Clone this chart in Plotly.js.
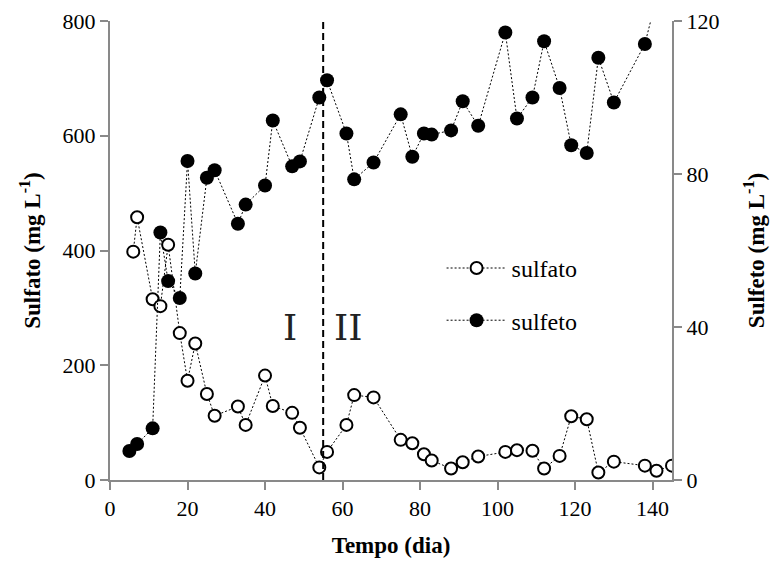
<!DOCTYPE html>
<html>
<head>
<meta charset="utf-8">
<script src="https://cdn.plot.ly/plotly-3.0.1.min.js"></script>
<style>html,body{margin:0;padding:0;background:#fff;}#chart{width:776px;height:565px;}</style>
</head>
<body>
<div id="chart"></div>
<script>
// Data
const sulfatoDias = [6, 7, 11, 13, 15, 18, 20, 22, 25, 27, 33, 35, 40, 42, 47, 49, 54, 56, 61, 63, 68, 75, 78, 81, 83, 88, 91, 95, 102, 105, 109, 112, 116, 119, 123, 126, 130, 138, 141, 145];
const sulfatoValores = [398, 458, 315, 303, 410, 256, 173, 238, 150, 112, 128, 96, 182, 129, 117, 91, 22, 49, 96, 148, 144, 70, 64, 45, 34, 20, 31, 41, 49, 52, 51, 20, 42, 111, 106, 13, 32, 25, 16, 25];
const sulfetoDias = [5, 7, 11, 13, 15, 18, 20, 22, 25, 27, 33, 35, 40, 42, 47, 49, 54, 56, 61, 63, 68, 75, 78, 81, 83, 88, 91, 95, 102, 105, 109, 112, 116, 119, 123, 126, 130, 138, 141];
const sulfetoValores = [7.6, 9.4, 13.5, 64.7, 52, 47.6, 83.4, 54, 79, 81, 67, 72, 77, 94, 82, 83.3, 100, 104.5, 90.6, 78.6, 83, 95.6, 84.5, 90.6, 90.3, 91.4, 99, 92.6, 117, 94.5, 100, 114.7, 102.5, 87.5, 85.5, 110.4, 98.7, 114, 126];
const dataMudanca = 55;
const fases = ["I", "II"];
const fasesX = [46.4, 61.4];
const fasesY = [265, 265];
const xTicks = [0, 20, 40, 60, 80, 100, 120, 140];
const y1Ticks = [0, 200, 400, 600, 800];
const y2Ticks = [0, 40, 80, 120];

const FONT = "Liberation Serif";
const AXIS = "#898989";

const traces = [
  {
    x: sulfatoDias, y: sulfatoValores, name: "sulfato", type: "scatter", mode: "lines+markers",
    legendgroup: "a",
    line: {color: "#000", width: 1, dash: "2px,2px"},
    marker: {symbol: "circle", size: 12, color: "#fff", line: {color: "#000", width: 2}},
    yaxis: "y"
  },
  {
    x: sulfetoDias, y: sulfetoValores, name: "sulfeto", type: "scatter", mode: "lines+markers",
    legendgroup: "b",
    line: {color: "#000", width: 1, dash: "2px,2px"},
    marker: {symbol: "circle", size: 14, color: "#000", line: {color: "#000", width: 0}},
    yaxis: "y2"
  }
];

const axisCommon = {
  showline: true, linecolor: AXIS, linewidth: 2, ticks: "outside", tickcolor: AXIS,
  ticklen: 8, tickwidth: 2, showgrid: false, zeroline: false,
  tickfont: {family: FONT, size: 22, color: "#000"}
};

const layout = {
  width: 776, height: 565,
  margin: {l: 110, r: 104, t: 21, b: 85},
  paper_bgcolor: "#fff", plot_bgcolor: "#fff",
  font: {family: FONT, color: "#000"},
  showlegend: true,
  legend: {
    x: 0.59, y: 0.51, xanchor: "left", yanchor: "top",
    font: {family: FONT, size: 24, color: "#000"},
    tracegroupgap: 18, bgcolor: "rgba(0,0,0,0)", itemwidth: 60
  },
  xaxis: Object.assign({}, axisCommon, {
    range: [0, 145], tickvals: xTicks, ticktext: xTicks.map(String),
    title: {text: "<b>Tempo (dia)</b>", font: {family: FONT, size: 23, color: "#000"}, standoff: 16}
  }),
  yaxis: Object.assign({}, axisCommon, {
    range: [0, 800], tickvals: y1Ticks, ticktext: y1Ticks.map(String),
    title: {text: "<b>Sulfato (mg L<sup>-1</sup>)</b>", font: {family: FONT, size: 23, color: "#000"}, standoff: 16}
  }),
  yaxis2: Object.assign({}, axisCommon, {
    range: [0, 120], tickvals: y2Ticks, ticktext: y2Ticks.map(String),
    overlaying: "y", side: "right",
    title: {text: "<b>Sulfeto (mg L<sup>-1</sup>)</b>", font: {family: FONT, size: 23, color: "#000"}, standoff: 29}
  }),
  shapes: [{
    type: "line", xref: "x", yref: "y", x0: dataMudanca, x1: dataMudanca, y0: 0, y1: 800,
    line: {color: "#000", width: 2, dash: "7px,4px"}
  }],
  annotations: fases.map((t, i) => ({
    x: fasesX[i], y: fasesY[i], xref: "x", yref: "y", text: t, showarrow: false,
    font: {family: "DejaVu Serif", size: 36, color: "#222"}
  }))
};

Plotly.newPlot("chart", traces, layout, {staticPlot: true, displayModeBar: false});
</script>
</body>
</html>
